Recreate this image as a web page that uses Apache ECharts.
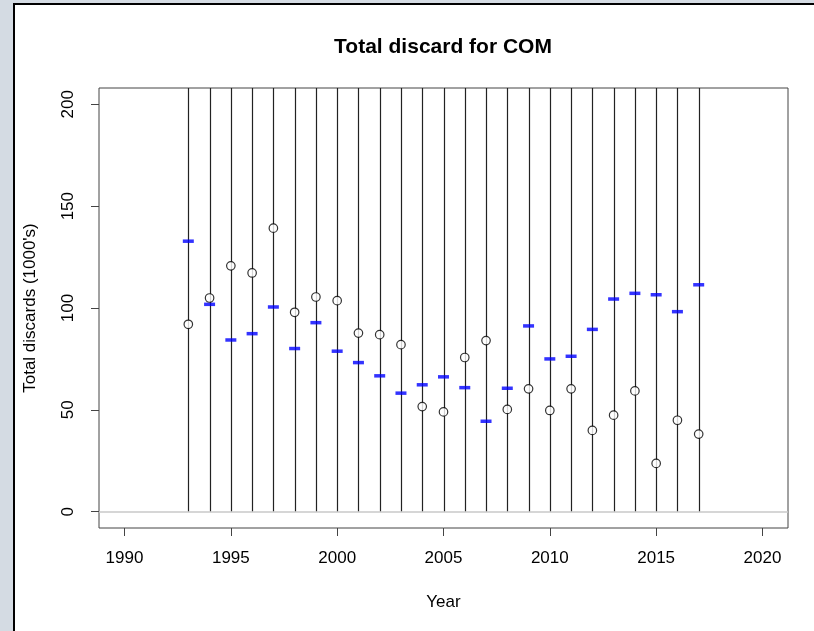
<!DOCTYPE html>
<html>
<head>
<meta charset="utf-8">
<script src="https://cdn.jsdelivr.net/npm/echarts@6/dist/echarts.min.js"></script>
<style>
html,body{margin:0;padding:0;background:#d4dbe3;}
#chart{width:814px;height:631px;}
</style>
</head>
<body>
<div id="chart"></div>
<script>
const years = [1993,1994,1995,1996,1997,1998,1999,2000,2001,2002,2003,2004,2005,2006,2007,2008,2009,2010,2011,2012,2013,2014,2015,2016,2017];
const observed = [92.0,104.9,120.7,117.2,139.2,97.9,105.4,103.6,87.7,86.9,82.0,51.6,49.0,75.7,84.0,50.2,60.3,49.7,60.3,39.9,47.4,59.3,23.7,44.9,38.1];
const predicted = [132.8,101.8,84.3,87.4,100.5,80.1,92.8,78.8,73.2,66.7,58.2,62.3,66.2,60.9,44.4,60.6,91.2,75.0,76.3,89.5,104.4,107.2,106.5,98.2,111.4];
const lowerCI = [0,0,0,0,0,0,0,0,0,0,0,0,0,0,0,0,0,0,0,0,0,0,0,0,0];
const upperCI = [250,250,250,250,250,250,250,250,250,250,250,250,250,250,250,250,250,250,250,250,250,250,250,250,250];
const xTicks = [1990,1995,2000,2005,2010,2015,2020];
const yTicks = [0,50,100,150,200];

const chart = echarts.init(document.getElementById('chart'), null, {renderer:'canvas'});
const font = 'Liberation Sans, Arial, sans-serif';

chart.setOption({
  backgroundColor: '#d4dbe3',
  animation: false,
  graphic: [
    {type:'rect', z:-100, shape:{x:13,y:3,width:801,height:628}, style:{fill:'#000'}},
    {type:'rect', z:-99, shape:{x:15,y:5,width:799,height:626}, style:{fill:'#fff'}},
    {type:'text', z:10, x:443, y:47, style:{text:'Total discard for COM', font:'bold 21px ' + font, fill:'#000', align:'center', verticalAlign:'middle'}}
  ],
  grid: {left:99, top:88, right:26, bottom:103, show:true, borderColor:'#444', borderWidth:1, backgroundColor:'transparent'},
  xAxis: {
    type:'value', min:1988.8, max:2021.2,
    name:'Year', nameLocation:'middle', nameGap:66,
    nameTextStyle:{fontFamily:font, fontSize:17, color:'#000'},
    axisLine:{show:false, onZero:false},
    splitLine:{show:false},
    axisTick:{show:true, length:8, lineStyle:{color:'#444'}, customValues: xTicks},
    axisLabel:{fontFamily:font, fontSize:17, color:'#000', margin:22, customValues: xTicks, formatter: v => String(v)}
  },
  yAxis: {
    type:'value', min:-8, max:208,
    name:"Total discards (1000's)", nameLocation:'middle', nameGap:60,
    nameTextStyle:{fontFamily:font, fontSize:17, color:'#000'},
    axisLine:{show:false, onZero:false},
    splitLine:{show:false},
    axisTick:{show:true, length:8, lineStyle:{color:'#444'}, customValues: yTicks},
    axisLabel:{fontFamily:font, fontSize:17, color:'#000', margin:22, rotate:90, customValues: yTicks, formatter: v => String(v)}
  },
  series: [
    {
      type:'custom',
      clip:true,
      data: years.map((y,i)=>[y, lowerCI[i], upperCI[i]]),
      renderItem: function(params, api){
        const p1 = api.coord([api.value(0), api.value(1)]);
        const p2 = api.coord([api.value(0), api.value(2)]);
        return {type:'line', shape:{x1:Math.round(p1[0])+0.5, y1:p1[1], x2:Math.round(p2[0])+0.5, y2:p2[1]}, style:{stroke:'#222', lineWidth:1.2}};
      },
      z:3,
      markLine: {
        silent:true, symbol:'none', label:{show:false},
        lineStyle:{color:'#c8c8c8', type:'solid', width:1.5},
        data:[{yAxis:0}]
      }
    },
    {
      type:'scatter',
      data: years.map((y,i)=>[y, predicted[i]]),
      symbol:'rect', symbolSize:[11,3.5],
      itemStyle:{color:'#0000ff'},
      z:4
    },
    {
      type:'scatter',
      data: years.map((y,i)=>[y, observed[i]]),
      symbol:'circle', symbolSize:8.5,
      itemStyle:{color:'#fff', borderColor:'#000', borderWidth:1.2},
      z:5
    }
  ]
});
</script>
</body>
</html>
